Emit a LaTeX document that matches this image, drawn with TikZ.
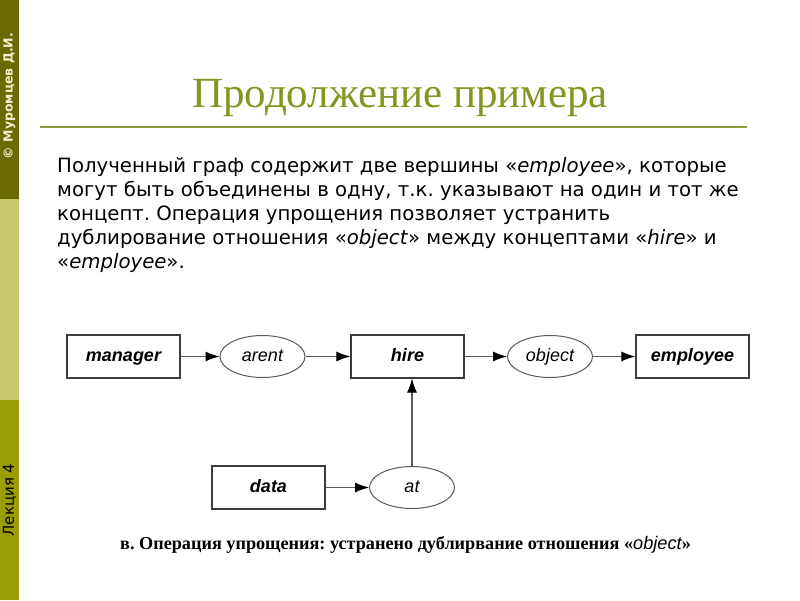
\documentclass[tikz,border=0pt]{standalone}
\usepackage{fontspec}
\setmainfont{Liberation Serif}
\newfontfamily\bodyfont{DejaVu Sans}
\newfontfamily\arialf{Liberation Sans}
\usetikzlibrary{shapes.geometric,arrows.meta}
\definecolor{barA}{HTML}{6A6A02}
\definecolor{barB}{HTML}{C6C96C}
\definecolor{barC}{HTML}{9C9C03}
\definecolor{titlecol}{HTML}{869420}
\definecolor{rulecol}{HTML}{8E9A3C}
\definecolor{edgecol}{HTML}{3C3C3C}
\definecolor{linecol}{HTML}{5A5A5A}
\definecolor{authorcol}{HTML}{EEEED0}
\tikzset{
  concept/.style={draw=edgecol, line width=1.2pt, rectangle, minimum width=113pt, minimum height=43pt, inner sep=0pt, text height=13pt, text depth=4pt, font=\arialf\fontsize{18}{20}\selectfont\bfseries\itshape},
  relation/.style={draw=linecol, line width=1.0pt, ellipse, minimum width=85pt, minimum height=42pt, inner sep=0pt, text height=13pt, text depth=4pt, font=\arialf\fontsize{18}{20}\selectfont\itshape},
  arr/.style={draw=linecol, line width=1.1pt, -{Latex[length=14pt,width=10pt,color=black]}},
  bodyline/.style={anchor=base west, inner sep=0pt, font=\bodyfont\fontsize{19.7}{22}\selectfont},
  sidetext/.style={rotate=90, inner sep=0pt},
}
\begin{document}
\frenchspacing
\begin{tikzpicture}[x=1pt,y=-1pt]
\useasboundingbox (0,0) rectangle (800,600);
\fill[white] (0,0) rectangle (800,600);
% side bar
\fill[barA] (0,0) rectangle (19,199);
\fill[barB] (0,199) rectangle (19,400);
\fill[barC] (0,400) rectangle (19,600);
\node[sidetext, text=authorcol, font=\bodyfont\fontsize{12.5}{14}\selectfont\bfseries] (author) at (9.5,96) {© Муромцев Д.И.};
\node[sidetext, text=black, font=\bodyfont\fontsize{15}{16}\selectfont] (lecture) at (9.5,500) {Лекция 4};
% title
\node[text=titlecol, font=\fontsize{43}{46}\selectfont] (title) at (400,98) {Продолжение примера};
\draw[rulecol, line width=2pt] (40,127) -- (747,127);
% body text
\node[bodyline] (l1) at (57,172) {Полученный граф содержит две вершины «\textit{employee}», которые};
\node[bodyline] (l2) at (57,196) {могут быть объединены в одну, т.к. указывают на один и тот же};
\node[bodyline] (l3) at (57,220) {концепт. Операция упрощения позволяет устранить};
\node[bodyline] (l4) at (57,244) {дублирование отношения «\textit{object}» между концептами «\textit{hire}» и};
\node[bodyline] (l5) at (57,268) {«\textit{employee}».};
% diagram
\node[concept] (manager) at (123.5,356.5) {manager};
\node[relation] (arent) at (262.5,356.5) {arent};
\node[concept] (hire) at (407.5,356.5) {hire};
\node[relation] (object) at (550,356.5) {object};
\node[concept] (employee) at (692.5,356.5) {employee};
\node[concept] (data) at (268.5,487.5) {data};
\node[relation] (at) at (412,487.5) {at};
\draw[arr] (manager) -- (arent);
\draw[arr] (arent) -- (hire);
\draw[arr] (hire) -- (object);
\draw[arr] (object) -- (employee);
\draw[arr] (data) -- (at);
\draw[arr] (at.north) -- (at.north |- hire.south);
% caption
\node[anchor=base west, inner sep=0pt, font=\fontsize{18.2}{20}\selectfont\bfseries] (caption) at (120,549) {в. Операция упрощения: устранено дублирвание отношения «{\arialf\mdseries\itshape object}»};
\end{tikzpicture}
\end{document}
